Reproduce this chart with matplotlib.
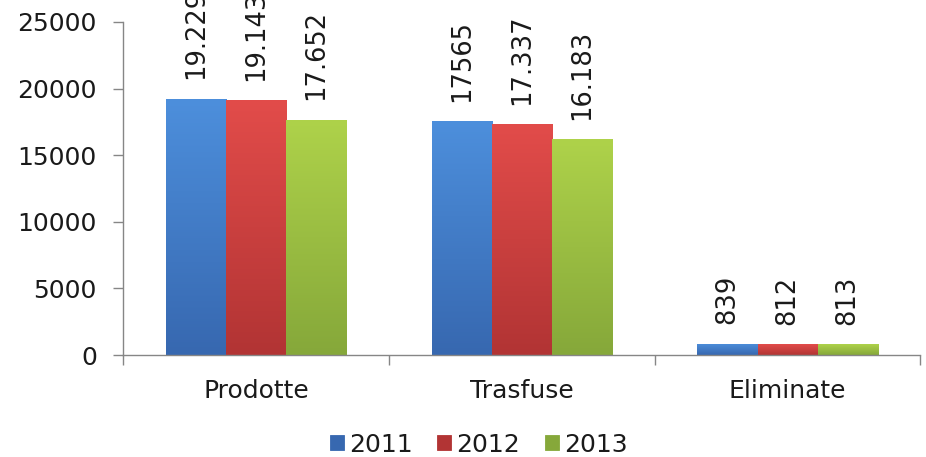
import numpy as np
import matplotlib
matplotlib.use('Agg')
import matplotlib.pyplot as plt
from matplotlib.colors import LinearSegmentedColormap

# Dati
categorie = ['Prodotte', 'Trasfuse', 'Eliminate']
anni = ['2011', '2012', '2013']
valori_2011 = [19229, 17565, 839]
valori_2012 = [19143, 17337, 812]
valori_2013 = [17652, 16183, 813]
etichette_2011 = ['19.229', '17565', '839']
etichette_2012 = ['19.143', '17.337', '812']
etichette_2013 = ['17.652', '16.183', '813']

serie = [valori_2011, valori_2012, valori_2013]
etichette = [etichette_2011, etichette_2012, etichette_2013]
# colore chiaro (alto) e scuro (basso) per il gradiente stile Excel
colori = [('#4d8fdc', '#3768b0'), ('#e24c4a', '#b23434'), ('#aed24a', '#86a83a')]

plt.rcParams['font.family'] = ['DejaVu Sans']
testo = '#1a1a1a'

fig = plt.figure(figsize=(9.26, 4.57), dpi=100)
ax = fig.add_axes([0.133, 0.223, 0.861, 0.729])

x = np.arange(len(categorie))
larghezza = 0.226

for i, (valori, (chiaro, scuro)) in enumerate(zip(serie, colori)):
    pos = x + (i - 1) * larghezza
    barre = ax.bar(pos, valori, larghezza, color=scuro, edgecolor=scuro,
                   linewidth=0.6, label=anni[i], zorder=2)
    cmap = LinearSegmentedColormap.from_list('g', [scuro, chiaro])
    grad = np.linspace(0, 1, 100).reshape(-1, 1)
    for b, lab in zip(barre, etichette[i]):
        x0, y0 = b.get_x(), b.get_y()
        w, h = b.get_width(), b.get_height()
        im = ax.imshow(grad, cmap=cmap, aspect='auto', origin='lower',
                       extent=[x0, x0 + w, y0, y0 + h], zorder=2.5)
        im.set_clip_path(b)
        ax.annotate(lab, (x0 + w / 2, y0 + h), xytext=(0, 14),
                    textcoords='offset points', rotation=90,
                    ha='center', va='bottom', fontsize=18.5, color=testo,
                    annotation_clip=False)

ax.set_xlim(-0.5, 2.5)
ax.set_ylim(0, 25000)
ax.set_yticks([0, 5000, 10000, 15000, 20000, 25000])

ax.set_xticks(x)
ax.set_xticklabels(categorie)
ax.set_xticks([-0.5, 0.5, 1.5, 2.5], minor=True)
ax.tick_params(axis='x', which='major', length=0, pad=17, labelsize=18, labelcolor=testo)
ax.tick_params(axis='x', which='minor', length=7, width=1, color='#868686')
ax.tick_params(axis='y', length=7, width=1, color='#868686', pad=12,
               labelsize=18, labelcolor=testo)

for lato in ['top', 'right']:
    ax.spines[lato].set_visible(False)
for lato in ['left', 'bottom']:
    ax.spines[lato].set_color('#868686')
    ax.spines[lato].set_linewidth(1)

fig.legend(loc='center', bbox_to_anchor=(0.517, 0.027), ncol=3, frameon=False,
           fontsize=18, handlelength=0.55, handleheight=0.55,
           handletextpad=0.2, columnspacing=1.0, labelcolor=testo)

fig.savefig('out.png', dpi=100)
